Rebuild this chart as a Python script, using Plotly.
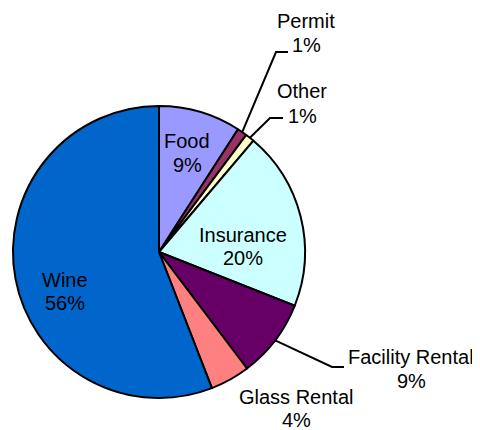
import math
import plotly.graph_objects as go

# ---- data ----
categories = ["Food", "Permit", "Other", "Insurance", "Facility Rental", "Glass Rental", "Wine"]
values = [9.1, 1.1, 1.0, 19.8, 8.7, 4.4, 55.9]
colors = ["#9999FF", "#993366", "#FFFFCC", "#CCFFFF", "#660066", "#FF8080", "#0066CC"]

# page body has an 8px default margin; work in screen pixels and convert
OFF = 8
W, H = 480, 430
CX, CY, R = 159, 252, 146  # pie centre / radius in screen pixels

FONT = dict(family="Liberation Sans, Arial, sans-serif", size=20, color="black")

total = sum(values)
pct = [round(v / total * 100) for v in values]


def px2paper(x, y):
    return (x - OFF) / W, (H - (y - OFF)) / H


x0, y1 = px2paper(CX - R, CY - R)
x1, y0 = px2paper(CX + R, CY + R)

fig = go.Figure(go.Pie(
    labels=categories,
    values=values,
    marker=dict(colors=colors, line=dict(color="black", width=2)),
    sort=False,
    direction="clockwise",
    rotation=0,
    textinfo="none",
    hoverinfo="label+percent",
    showlegend=False,
    domain=dict(x=[x0, x1], y=[y0, y1]),
))


def edge_point(i):
    start = sum(values[:i]) / total
    mid = (start + values[i] / total / 2) * 2 * math.pi
    return CX + R * math.sin(mid), CY - R * math.cos(mid)


# label layout: (x centre, y of name line, y of percent line), screen pixels
label_pos = {
    "Food": (187, 141, 165),
    "Permit": (306, 21, 45),
    "Other": (302, 91, 116),
    "Insurance": (243, 235, 258),
    "Facility Rental": (411, 357, 381),
    "Glass Rental": (296, 397, 420),
    "Wine": (65, 280, 303),
}
# leader lines: elbow point and end point
leaders = {
    "Permit": ((276, 52), (288, 52)),
    "Other": ((270, 118), (283, 118)),
    "Facility Rental": ((332, 367), (344, 367)),
}

annotations = []
shapes = []
for i, c in enumerate(categories):
    lx, ly1, ly2 = label_pos[c]
    for txt, ly in ((c, ly1), (f"{pct[i]}%", ly2)):
        ax_, ay_ = px2paper(lx, ly)
        annotations.append(dict(x=ax_, y=ay_, xref="paper", yref="paper", text=txt,
                                showarrow=False, font=FONT, xanchor="center",
                                yanchor="middle"))
    if c in leaders:
        elbow, end = leaders[c]
        p0 = px2paper(*edge_point(i))
        p1 = px2paper(*elbow)
        p2 = px2paper(*end)
        shapes.append(dict(type="path", xref="paper", yref="paper",
                           path=f"M {p0[0]} {p0[1]} L {p1[0]} {p1[1]} L {p2[0]} {p2[1]}",
                           line=dict(color="black", width=2)))

fig.update_layout(
    width=W, height=H,
    margin=dict(l=0, r=0, t=0, b=0),
    paper_bgcolor="white",
    plot_bgcolor="white",
    annotations=annotations,
    shapes=shapes,
    font=FONT,
)

fig.write_html("out.html")
